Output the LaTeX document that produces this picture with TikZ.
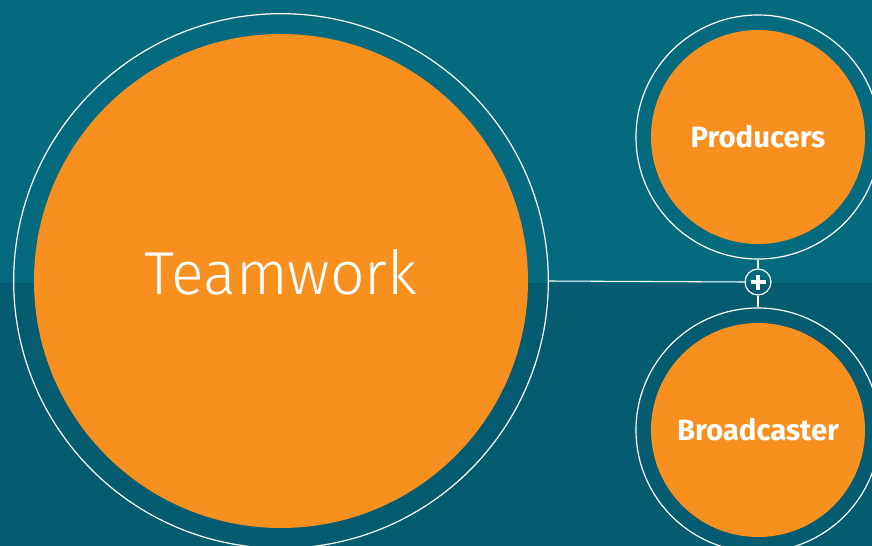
\documentclass[tikz,border=0pt]{standalone}
\usepackage{fontspec}
\setmainfont{Fira Sans}
\newfontfamily\thinfont{Fira Sans Light}
\usepackage{xcolor}
\usetikzlibrary{calc}
\definecolor{teal_top}{HTML}{066A7E}
\definecolor{teal_bot}{HTML}{055B6F}
\definecolor{team_orange}{HTML}{F7901E}

\tikzset{
	ring/.style={circle, draw=white, line width=0.9pt, inner sep=0pt},
	disc/.style={circle, fill=team_orange, inner sep=0pt, text=white},
	link/.style={draw=white, line width=0.8pt}
}

\begin{document}
\begin{tikzpicture}[x=0.75pt, y=-0.75pt]
	\useasboundingbox (0, 0) rectangle (872, 546);
	\clip (0, 0) rectangle (872, 546);
	\fill[teal_top] (0, 0) rectangle (872, 283);
	\fill[teal_bot] (0, 283) rectangle (872, 546);
	% big circle
	\node[ring, minimum size=401pt] (teamring) at (281, 281) {};
	\node[disc, minimum size=370.5pt] (teamwork) at (281, 281) {};
	\node[text=white, inner sep=0pt, anchor=base, font=\thinfont\fontsize{45.5}{45.5}\selectfont] (teamlabel) at (281, 294) {Teamwork};
	% right circles
	\node[ring, minimum size=183pt] (prodring) at (758, 137) {};
	\node[disc, minimum size=160.5pt, font=\bfseries\fontsize{22}{22}\selectfont] (producers) at (758, 137) {Producers};
	\node[ring, minimum size=183pt] (bcring) at (758, 430) {};
	\node[disc, minimum size=160.5pt, font=\bfseries\fontsize{22}{22}\selectfont] (broadcaster) at (758, 430) {Broadcaster};
	% plus
	\node[circle, draw=white, line width=0.9pt, minimum size=19.5pt, inner sep=0pt] (plus) at (758, 282) {};
	\draw[white, line width=3pt] ($(plus.center) + (-7.5, 0)$) -- ($(plus.center) + (7.5, 0)$);
	\draw[white, line width=3pt] ($(plus.center) + (0, -7.5)$) -- ($(plus.center) + (0, 7.5)$);
	\draw[link] (teamring.east) -- (plus.west);
	\draw[link] (prodring.south) -- (plus.north);
	\draw[link] (plus.south) -- (bcring.north);
\end{tikzpicture}
\end{document}
